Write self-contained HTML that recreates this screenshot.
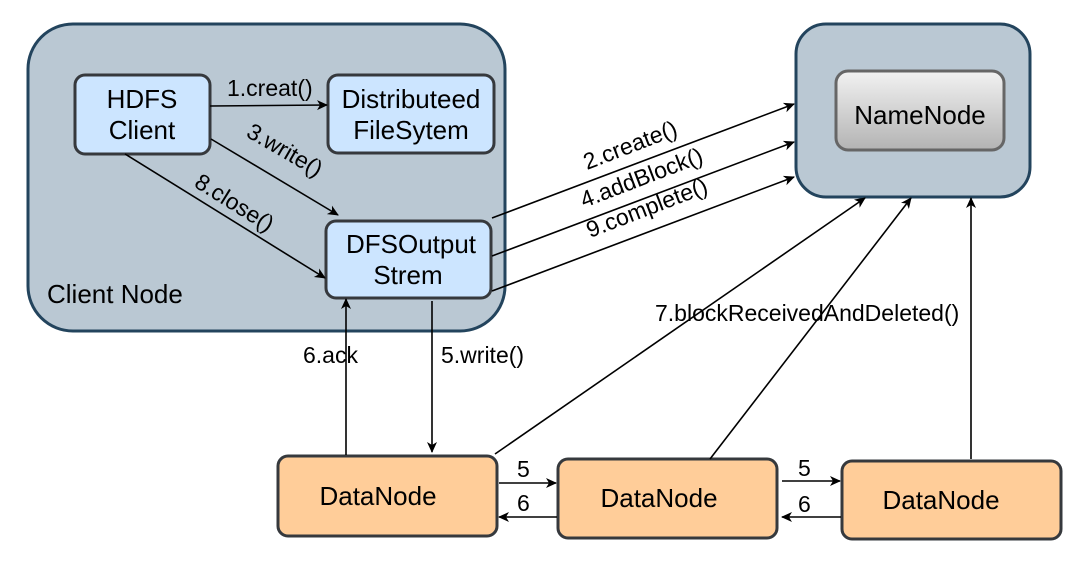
<!DOCTYPE html>
<html><head><meta charset="utf-8"><style>
body{margin:0;background:#fff;}
svg{display:block;font-family:"Liberation Sans",Arial,sans-serif;}
</style></head><body>
<svg width="1080" height="582" viewBox="0 0 1080 582">
<defs>
<marker id="a" markerWidth="12" markerHeight="12" refX="10" refY="5" orient="auto" markerUnits="userSpaceOnUse">
<path d="M0,0 L11,5 L0,10 L3,5 Z" fill="#000"/></marker>
<linearGradient id="g" x1="0" y1="0" x2="0" y2="1"><stop offset="0" stop-color="#f2f2f2"/><stop offset="1" stop-color="#b3b3b3"/></linearGradient>
</defs>
<rect x="28" y="24" width="477" height="307" rx="45" fill="#bac8d3" stroke="#23445d" stroke-width="3"/>
<rect x="796" y="24" width="234" height="173" rx="30" fill="#bac8d3" stroke="#23445d" stroke-width="3"/>
<rect x="836" y="71" width="168" height="79" rx="12" fill="url(#g)" stroke="#666" stroke-width="3"/>
<text x="920" y="124" font-size="26" text-anchor="middle">NameNode</text>
<text x="47" y="303" font-size="26">Client Node</text>
<g fill="#cce5ff" stroke="#36393d" stroke-width="3">
<rect x="75" y="75" width="135" height="79" rx="10"/>
<rect x="328" y="75" width="166" height="78" rx="10"/>
<rect x="326" y="221" width="165" height="77" rx="10"/>
</g>
<g fill="#ffcd99" stroke="#36393d" stroke-width="3">
<rect x="278" y="456" width="219" height="80" rx="10"/>
<rect x="558" y="459" width="219" height="79" rx="10"/>
<rect x="842" y="461" width="219" height="78" rx="10"/>
</g>
<g font-size="26" text-anchor="middle">
<text x="142" y="108">HDFS</text><text x="142" y="139">Client</text>
<text x="411" y="108">Distributeed</text><text x="411" y="139">FileSytem</text>
<text x="411" y="253">DFSOutput</text><text x="408" y="284">Strem</text>
<text x="378" y="505">DataNode</text><text x="659" y="507">DataNode</text><text x="941" y="509">DataNode</text>
</g>
<g stroke="#000" stroke-width="1.6" fill="none" marker-end="url(#a)">
<line x1="210" y1="106" x2="327" y2="105"/>
<line x1="211" y1="139" x2="338" y2="215"/>
<line x1="125" y1="154" x2="325" y2="278"/>
<line x1="492" y1="218" x2="794" y2="104"/>
<line x1="492" y1="256" x2="794" y2="142"/>
<line x1="492" y1="291" x2="794" y2="177"/>
<line x1="346" y1="455" x2="346" y2="299"/>
<line x1="432" y1="301" x2="432" y2="452"/>
<line x1="495" y1="454" x2="865" y2="198"/>
<line x1="710" y1="459" x2="911" y2="198" />
<line x1="971" y1="459" x2="971" y2="198"/>
<line x1="499" y1="483" x2="556" y2="483"/>
<line x1="557" y1="517" x2="499" y2="517"/>
<line x1="782" y1="481" x2="840" y2="481"/>
<line x1="841" y1="517" x2="782" y2="517"/>
</g>
<g font-size="23">
<text x="227" y="96">1.creat()</text>
<text x="245" y="136" transform="rotate(30 245 136)">3.write()</text>
<text x="193" y="186" transform="rotate(32 193 186)">8.close()</text>
<text x="587" y="170" transform="rotate(-21 587 170)">2.create()</text>
<text x="584" y="208" transform="rotate(-21 584 208)">4.addBlock()</text>
<text x="590" y="238" transform="rotate(-21 590 238)">9.complete()</text>
<text x="303" y="363">6.ack</text>
<text x="441" y="363">5.write()</text>
<text x="655" y="321">7.blockReceivedAndDeleted()</text>
<text x="517" y="477">5</text><text x="517" y="511">6</text>
<text x="798" y="476">5</text><text x="798" y="512">6</text>
</g>
</svg>
</body></html>
